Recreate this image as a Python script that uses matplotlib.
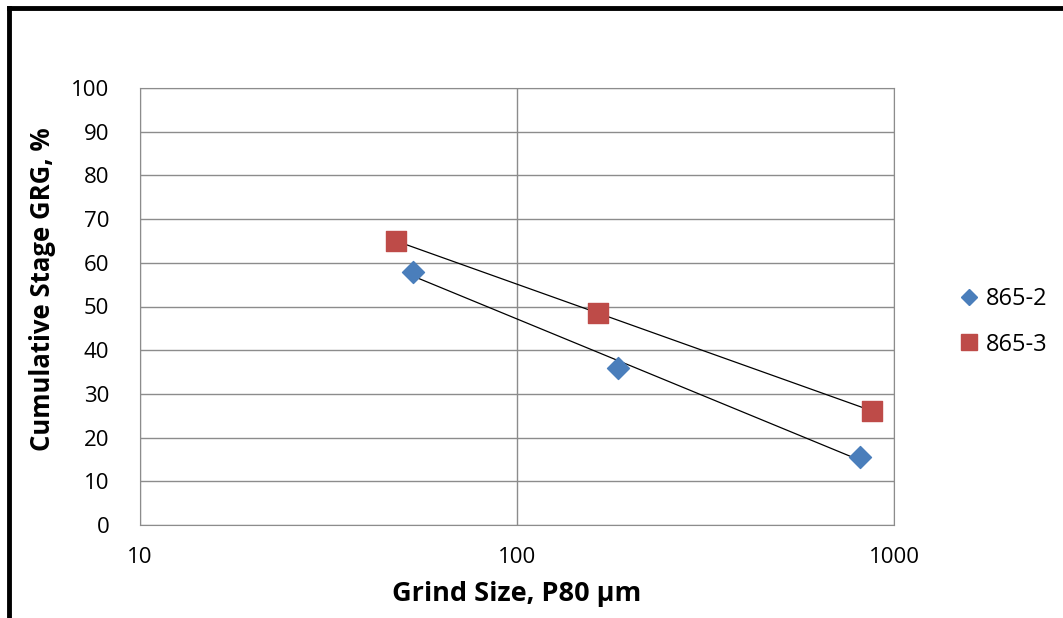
import numpy as np
import matplotlib
matplotlib.use("Agg")
import matplotlib.pyplot as plt
from matplotlib.lines import Line2D

plt.rcParams['font.family'] = ['Open Sans', 'DejaVu Sans']

# Data
x_8652 = [53, 185, 813]
y_8652 = [57.9, 35.9, 15.6]
x_8653 = [47.7, 164, 875]
y_8653 = [65.0, 48.5, 26.1]
y_ticks = [0, 10, 20, 30, 40, 50, 60, 70, 80, 90, 100]
x_ticks = [10, 100, 1000]

fig = plt.figure(figsize=(10.63, 6.18), dpi=100)
ax = fig.add_axes([140 / 1063, 1 - 525 / 618, 754 / 1063, 437 / 618])

ax.set_xscale('log')
ax.set_xlim(10, 1000)
ax.set_ylim(0, 100)
ax.set_yticks(y_ticks)
ax.set_xticks(x_ticks)
ax.set_xticklabels([str(t) for t in x_ticks])
ax.minorticks_off()
ax.grid(True, color='#8c8c8c', linewidth=1)
ax.set_axisbelow(True)
for s in ax.spines.values():
    s.set_color('#8c8c8c')
ax.tick_params(length=0, labelsize=16, colors='black')
ax.tick_params(axis='x', pad=16)
ax.tick_params(axis='y', pad=22)

# logarithmic trendlines
for xs, ys in [(x_8652, y_8652), (x_8653, y_8653)]:
    lx = np.log10(xs)
    k, b = np.polyfit(lx, ys, 1)
    xx = np.array([min(xs), max(xs)])
    ax.plot(xx, k * np.log10(xx) + b, color='black', linewidth=0.9, zorder=3)

ax.scatter(x_8652, y_8652, marker='D', s=125, color='#4a7ebb', zorder=4, clip_on=False)
ax.scatter(x_8653, y_8653, marker='s', s=190, color='#be4b48', zorder=4, clip_on=False)

ax.set_xlabel('Grind Size, P80 µm', fontsize=19.5, fontweight='bold')
ax.xaxis.set_label_coords(0.5, -0.128)
ax.set_ylabel('Cumulative Stage GRG, %', fontsize=18.5, fontweight='bold')
ax.yaxis.set_label_coords(-0.112, 0.54)

handles = [
    Line2D([], [], marker='D', linestyle='none', color='#4a7ebb', markersize=8),
    Line2D([], [], marker='s', linestyle='none', color='#be4b48', markersize=11),
]
fig.legend(handles, ['865-2', '865-3'], loc='center left',
           bbox_to_anchor=(955 / 1063, 1 - 322 / 618), frameon=False,
           fontsize=17, handletextpad=0.1, labelspacing=0.9, handlelength=1.2,
           borderaxespad=0, borderpad=0)

# figure border on left and top
fig.add_artist(Line2D([9 / 1063, 9 / 1063], [0, 1 - 8 / 618], color='black',
                      linewidth=3.5, transform=fig.transFigure))
fig.add_artist(Line2D([9 / 1063, 1], [1 - 8 / 618, 1 - 8 / 618], color='black',
                      linewidth=3.5, transform=fig.transFigure))

fig.savefig('out.png', dpi=100)
